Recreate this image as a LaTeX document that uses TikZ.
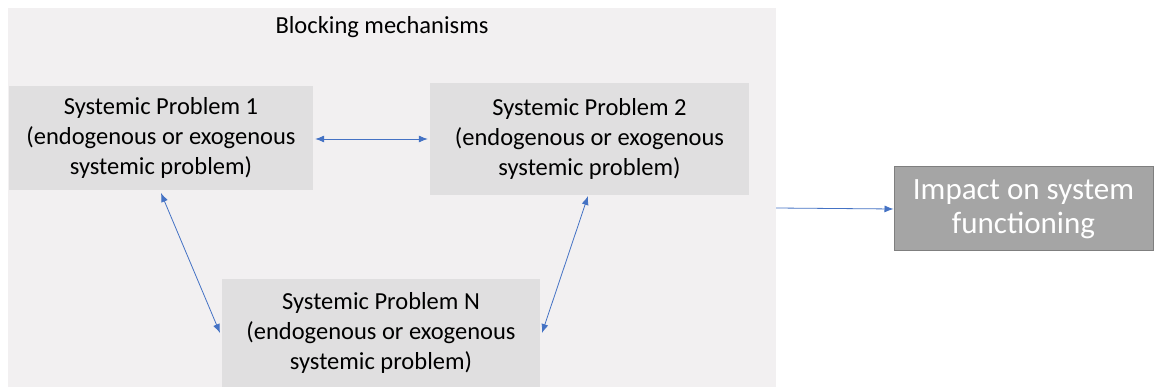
\documentclass[tikz,border=0pt]{standalone}
\usepackage{fontspec}
\setmainfont{Carlito}
\usetikzlibrary{arrows.meta}
\definecolor{panelbg}{HTML}{F2F0F1}
\definecolor{boxbg}{HTML}{E0DFE0}
\definecolor{impbg}{HTML}{A5A5A5}
\definecolor{impdraw}{HTML}{7F7F7F}
\definecolor{arrowblue}{HTML}{4472C4}
\begin{document}
\begin{tikzpicture}[x=1pt,y=-1pt,
  probbox/.style={fill=boxbg,draw=none,inner sep=0pt,align=center,
    font=\fontsize{24.5}{30}\selectfont,text=black},
  link/.style={draw=arrowblue,line width=0.8pt,{Latex[length=9pt,width=7pt]}-{Latex[length=9pt,width=7pt]}},
  onelink/.style={draw=arrowblue,line width=0.8pt,-{Latex[length=9pt,width=7pt]}}]
\useasboundingbox (0,0) rectangle (1154,387);
\fill[white] (0,0) rectangle (1154,387);
\fill[panelbg] (8,8) rectangle (776,387);
\node[font=\fontsize{24.5}{28}\selectfont] (title) at (382,27) {Blocking mechanisms};
\node[probbox,minimum width=304pt,minimum height=104pt] (p1) at (161,138)
  {Systemic Problem 1\\(endogenous or exogenous\\systemic problem)};
\node[probbox,minimum width=319pt,minimum height=112pt] (p2) at (589.5,139)
  {Systemic Problem 2\\(endogenous or exogenous\\systemic problem)};
\node[probbox,minimum width=318pt,minimum height=108pt] (pn) at (381,333)
  {Systemic Problem N\\(endogenous or exogenous\\systemic problem)};
\node[fill=impbg,draw=impdraw,line width=1pt,minimum width=259pt,minimum height=84pt,
  inner sep=0pt,align=center,text=white,font=\fontsize{31}{34}\selectfont] (imp) at (1023.5,209)
  {Impact on system\\functioning};
\coordinate (pout) at (776,208);
\draw[link] ([xshift=2pt]p1.east |- 0,139) -- ([xshift=-2pt]p2.west |- 0,139);
\draw[link] (161,193) -- (220,333);
\draw[link] (588,196) -- (542,333);
\draw[onelink] (pout) -- (imp.west);
\end{tikzpicture}
\end{document}
